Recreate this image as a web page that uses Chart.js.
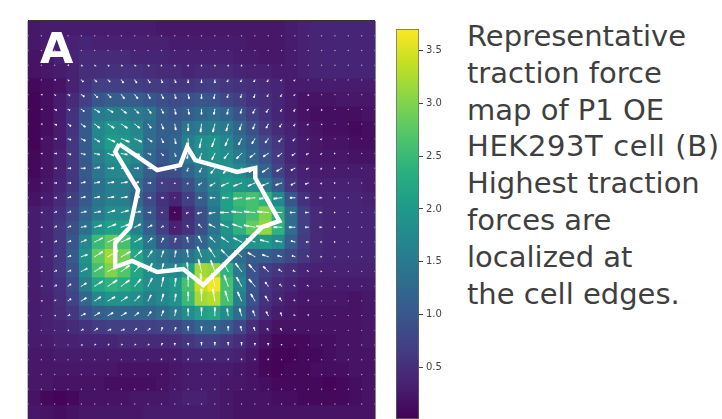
<!DOCTYPE html>
<html lang="en">
<head>
<meta charset="UTF-8">
<title>Traction force map</title>
<script src="https://cdn.jsdelivr.net/npm/chart.js@4"></script>
<style>
    html, body { margin: 0; padding: 0; background: #fff; overflow: hidden; }
    #page { position: relative; width: 722px; height: 419px; overflow: hidden; font-family: "DejaVu Sans", sans-serif; }
    #mapBox { position: absolute; left: 28px; top: 21px; width: 347px; height: 398px; box-shadow: 0 -1px 0 #333, 1px 0 0 #888, -1px 0 0 #bbb; filter: blur(0.6px); }
    #barBox { position: absolute; left: 396px; top: 20px; filter: blur(0.35px); }
    #panel { position: absolute; left: 40px; top: 22px; font-size: 43px; font-weight: bold; color: #fff; line-height: 52px; }
    #note { position: absolute; left: 467px; top: 18px; font-size: 29px; line-height: 36.8px; color: #3f3f3f; white-space: nowrap; }
    #note span { letter-spacing: 0.6px; }
</style>
</head>
<body>
<div id="page">
    <div id="mapBox"><canvas id="map" width="347" height="398"></canvas></div>
    <div id="barBox"><canvas id="bar" width="60" height="420"></canvas></div>
    <div id="panel">A</div>
    <div id="note">Representative<br>traction force<br>map of P1 OE<br><span>HEK293T cell (B)</span><br>Highest traction<br>forces are<br>localized at<br>the cell edges.</div>
</div>
<script>
// heat map, one row per line from the top
const tractionMap = [
    [.25,.3,.3,.3,.3,.3,.3,.3,.3,.3,.25,.25,.25,.25,.25,.25,.25,.25,.25,.25,.3,.35,.4,.4,.4,.4,.4],
    [.25,.3,.35,.35,.4,.35,.35,.35,.35,.35,.35,.3,.3,.3,.3,.3,.3,.25,.25,.25,.3,.35,.4,.4,.4,.4,.4],
    [.2,.25,.35,.4,.45,.45,.45,.45,.4,.4,.4,.35,.35,.35,.35,.35,.3,.3,.25,.25,.3,.35,.4,.4,.4,.4,.4],
    [.2,.25,.3,.35,.5,.5,.55,.55,.55,.5,.45,.45,.4,.45,.45,.45,.4,.35,.35,.3,.3,.35,.4,.4,.4,.4,.4],
    [.1,.15,.2,.35,.55,.7,.7,.7,.7,.65,.65,.6,.6,.65,.7,.6,.55,.5,.45,.4,.3,.3,.3,.3,.3,.3,.3],
    [.05,.15,.3,.45,.7,1.0,1.1,1.1,1.1,1.0,.9,.85,.9,1.0,.95,.8,.7,.55,.5,.4,.3,.2,.2,.2,.25,.25,.25],
    [.05,.15,.3,.55,.95,1.5,1.6,1.6,1.5,1.4,1.1,1.0,1.1,1.25,1.3,1.2,.95,.7,.55,.4,.3,.2,.15,.15,.15,.15,.2],
    [.05,.15,.3,.55,1.05,1.7,1.9,1.85,1.7,1.3,1.1,1.1,1.4,1.5,1.6,1.5,1.2,.9,.65,.45,.35,.25,.2,.15,.15,.1,.15],
    [.05,.2,.3,.6,1.05,1.7,2.05,2.0,1.8,1.3,1.1,1.2,1.6,1.85,1.9,1.7,1.35,1.1,.85,.6,.4,.3,.25,.2,.2,.15,.15],
    [.1,.2,.35,.6,1.05,1.6,1.85,1.9,1.7,1.25,1.0,1.2,1.5,1.8,1.9,1.8,1.5,1.25,.95,.65,.4,.3,.25,.25,.25,.2,.2],
    [.1,.2,.35,.6,1.05,1.45,1.7,1.75,1.5,1.1,.85,.9,1.2,1.5,1.8,1.9,1.75,1.45,1.15,.75,.5,.35,.3,.3,.3,.3,.3],
    [.15,.25,.4,.6,1.0,1.35,1.6,1.6,1.3,1.0,.7,.65,.9,1.3,1.7,2.0,1.95,1.85,1.5,1.05,.6,.4,.35,.35,.35,.35,.3],
    [.2,.3,.45,.7,1.05,1.4,1.6,1.6,1.2,.85,.55,.4,.7,1.1,1.6,2.1,2.5,2.6,2.4,1.75,1.0,.55,.4,.4,.4,.4,.35],
    [.3,.4,.55,.8,1.2,1.5,1.8,1.8,1.5,1.0,.6,.1,.5,.9,1.4,2.1,2.4,2.6,3.0,2.3,1.3,.7,.45,.4,.4,.4,.4],
    [.3,.4,.6,.9,1.35,1.9,2.1,2.1,1.6,1.1,.7,.35,.55,.9,1.4,1.9,2.4,2.8,3.1,2.4,1.3,.7,.45,.4,.4,.4,.4],
    [.3,.4,.6,1.0,1.7,2.5,2.8,2.6,2.0,1.4,1.0,.8,.95,1.2,1.6,1.8,1.9,1.9,2.0,1.8,1.1,.65,.45,.4,.4,.4,.4],
    [.3,.4,.6,1.05,1.9,2.8,3.2,2.9,2.2,1.7,1.5,1.3,1.4,1.7,1.8,1.6,1.3,1.1,1.1,1.0,.8,.6,.45,.4,.4,.4,.4],
    [.3,.4,.6,.95,1.8,2.6,3.0,2.7,2.2,1.8,1.7,1.7,2.1,3.2,3.1,2.4,1.5,.95,.7,.6,.5,.4,.35,.35,.35,.35,.35],
    [.3,.4,.55,.85,1.6,2.2,2.4,2.3,2.1,1.8,1.8,2.0,2.6,3.4,3.65,2.6,1.7,1.0,.6,.45,.4,.3,.3,.3,.3,.3,.3],
    [.3,.35,.5,.75,1.25,1.7,1.9,1.9,1.8,1.6,1.7,1.9,2.5,3.2,3.3,2.6,1.6,.95,.55,.4,.3,.25,.25,.25,.25,.2,.25],
    [.3,.35,.45,.6,.9,1.1,1.2,1.2,1.2,1.2,1.3,1.5,1.8,2.1,2.2,1.8,1.3,.8,.45,.3,.25,.2,.2,.2,.2,.2,.25],
    [.3,.35,.4,.45,.55,.65,.7,.7,.7,.7,.75,.8,1.0,1.2,1.2,1.05,.8,.5,.3,.2,.2,.2,.2,.2,.2,.2,.25],
    [.3,.3,.35,.35,.4,.4,.4,.45,.45,.45,.45,.5,.6,.7,.7,.6,.5,.35,.2,.1,.1,.1,.15,.15,.2,.2,.25],
    [.25,.25,.3,.3,.3,.3,.3,.3,.3,.3,.3,.3,.4,.4,.4,.4,.35,.25,.1,.05,.05,.1,.1,.15,.2,.2,.2],
    [.25,.25,.25,.25,.25,.25,.25,.2,.2,.2,.2,.25,.3,.3,.3,.3,.25,.2,.1,.05,.1,.1,.15,.15,.15,.2,.2],
    [.25,.25,.2,.2,.2,.2,.15,.15,.15,.15,.2,.25,.3,.3,.3,.25,.25,.2,.15,.1,.1,.1,.1,.05,.1,.15,.2],
    [.2,.1,.05,.1,.2,.2,.2,.2,.25,.25,.25,.3,.35,.35,.3,.25,.2,.2,.2,.15,.15,.1,.1,.1,.1,.15,.2],
    [.25,.2,.15,.2,.25,.25,.25,.25,.25,.3,.3,.3,.3,.3,.3,.25,.2,.2,.2,.2,.2,.2,.2,.2,.2,.2,.2]
];

// quiver components, rows 1..26 of the vector grid, columns 0..26
const arrowU = [
    [0,0,0,0,0,0,0,0,0,0,0,0,0,0,0,0,0,0,0,0,0,0,0,0,0,0,0],
    [0,0,0,0,0,0,0,0,0,0,0,0,0,0,0,0,0,0,0,0,0,0,0,0,0,0,0],
    [0,0,0,1,1,1,1,1,1,1,0,0,0,0,0,0,0,0,0,0,0,0,0,0,0,0,0],
    [0,0,1,1,2,2,2,2,2,2,1,1,0,0,0,-1,-1,-1,-1,-1,-1,0,0,0,0,0,0],
    [0,1,1,2,3,3,3,3,3,2,2,1,1,0,-1,-1,-1,-1,-1,-1,-1,0,0,0,0,0,0],
    [0,1,2,2,3,5,5,5,4,3,2,1,1,0,-1,-1,-1,-2,-2,-1,-1,-1,0,0,0,0,0],
    [0,1,2,3,4,5,6,6,5,3,2,1,0,-1,-2,-2,-2,-2,-2,-2,-1,-1,0,0,0,0,0],
    [0,1,2,3,4,5,7,8,7,4,2,1,0,-2,-3,-3,-3,-3,-3,-3,-2,-1,-1,0,0,0,0],
    [0,1,2,3,4,5,6,6,5,3,2,1,-1,-2,-3,-4,-5,-5,-5,-4,-3,-2,-1,-1,0,0,0],
    [0,1,2,3,4,5,6,5,4,3,2,1,-1,-2,-4,-5,-6,-6,-6,-5,-4,-2,-1,-1,0,0,0],
    [0,1,2,3,4,5,6,6,4,3,1,0,-1,-3,-5,-7,-8,-7,-7,-6,-4,-3,-1,-1,0,0,0],
    [0,1,2,3,4,5,6,6,5,3,2,0,-1,-3,-5,-6,-8,-9,-9,-8,-5,-3,-2,-1,0,0,0],
    [0,1,2,3,5,6,7,7,6,3,1,0,-2,-4,-6,-8,-10,-11,-11,-9,-5,-3,-2,-1,0,0,0],
    [0,1,2,3,5,7,8,8,6,4,2,0,-1,-3,-6,-8,-9,-11,-12,-8,-6,-3,-2,-1,0,0,0],
    [0,1,2,3,5,8,9,9,7,4,2,1,-1,-3,-5,-7,-8,-9,-8,-6,-4,-2,-1,-1,0,0,0],
    [0,1,2,3,6,8,10,9,7,4,2,1,-1,-4,-6,-7,-7,-7,-6,-4,-3,-1,-1,0,0,0,0],
    [0,1,2,3,6,8,10,8,6,4,2,1,-1,-3,-4,-5,-6,-6,-5,-3,-2,-1,-1,0,0,0,0],
    [0,1,2,3,5,8,9,8,6,4,2,1,0,-1,-3,-4,-5,-6,-3,-2,-1,-1,0,0,0,0,0],
    [0,1,1,3,5,6,7,6,5,3,2,1,0,0,-2,-3,-4,-4,-3,-2,-1,0,0,0,0,0,0],
    [0,0,1,2,4,5,5,5,4,3,2,1,0,0,0,-1,-2,-2,-2,-1,-1,0,0,0,0,0,0],
    [0,0,0,1,2,3,3,3,2,2,1,1,0,0,0,0,-1,-1,-1,-1,0,0,0,0,0,0,0],
    [0,0,0,0,1,1,1,1,1,1,1,0,0,0,0,0,0,0,0,0,0,0,0,0,0,0,0],
    [0,0,0,0,0,0,0,0,0,0,0,0,0,0,0,0,0,0,0,0,0,0,0,0,0,0,0],
    [0,0,0,0,0,0,0,0,0,0,0,0,0,0,0,0,0,0,0,0,0,0,0,0,0,0,0],
    [0,0,0,0,0,0,0,0,0,0,0,0,0,0,0,0,0,0,0,0,0,0,0,0,0,0,0],
    [0,0,0,0,0,0,0,0,0,0,0,0,0,0,0,0,0,0,0,0,0,0,0,0,0,0,0]
];
const arrowV = [
    [0,0,0,0,0,0,0,0,0,0,0,0,0,0,0,0,0,0,0,0,0,0,0,0,0,0,0],
    [0,0,0,0,0,0,0,0,0,0,0,0,0,0,0,0,0,0,0,0,0,0,0,0,0,0,0],
    [0,0,0,0,1,1,1,1,1,1,1,1,1,1,1,1,1,0,0,0,0,0,0,0,0,0,0],
    [0,0,0,1,2,2,2,3,3,3,3,3,3,3,3,2,2,2,2,1,1,0,0,0,0,0,0],
    [0,0,1,1,2,3,3,4,4,4,4,4,4,4,4,3,3,3,2,2,1,1,0,0,0,0,0],
    [0,0,1,1,2,3,3,4,4,4,4,5,5,5,5,5,4,4,3,2,2,1,1,0,0,0,0],
    [0,0,1,2,3,4,4,4,4,4,5,6,7,8,8,7,6,5,4,3,2,1,1,0,0,0,0],
    [0,0,0,1,2,3,3,3,3,3,4,5,7,9,8,7,6,5,4,3,2,1,1,0,0,0,0],
    [0,0,0,1,1,1,2,1,1,1,2,3,5,6,6,5,5,4,3,3,2,1,1,0,0,0,0],
    [0,0,0,0,0,-1,0,0,0,0,1,2,3,4,5,5,5,4,4,3,2,1,1,0,0,0,0],
    [0,0,0,0,-1,-1,-1,-1,-1,0,0,1,1,2,3,3,3,3,3,2,2,1,1,0,0,0,0],
    [0,0,0,-1,-1,-1,-1,-1,-1,0,0,0,0,0,0,0,1,1,1,1,0,0,0,0,0,0,0],
    [0,0,-1,-1,-1,-1,-2,-2,-1,0,0,0,1,1,1,0,-1,-1,-1,0,0,0,0,0,0,0,0],
    [0,0,-1,-1,-1,-2,-3,-3,-3,-2,-1,0,-2,-3,-3,-3,-3,-2,-1,0,0,0,0,0,0,0,0],
    [0,0,-1,-1,-2,-4,-4,-4,-4,-4,-4,-4,-5,-6,-5,-5,-4,-3,-2,-1,-1,0,0,0,0,0,0],
    [0,0,-1,-1,-2,-5,-6,-5,-6,-6,-6,-6,-7,-10,-9,-7,-6,-4,-2,-1,-1,-1,0,0,0,0,0],
    [0,0,-1,-1,-3,-5,-6,-6,-7,-8,-8,-7,-9,-12,-11,-9,-8,-7,-5,-2,-1,-1,0,0,0,0,0],
    [0,0,-1,-2,-3,-5,-6,-6,-7,-8,-9,-8,-11,-13,-13,-11,-9,-7,-4,-2,-1,-1,0,0,0,0,0],
    [0,0,-1,-2,-3,-4,-4,-4,-5,-6,-7,-7,-9,-12,-12,-10,-9,-7,-5,-3,-1,-1,0,0,0,0,0],
    [0,0,0,-1,-2,-3,-3,-3,-3,-4,-5,-6,-7,-8,-8,-7,-7,-5,-4,-3,-1,-1,0,0,0,0,0],
    [0,0,0,0,-1,-2,-1,-1,-2,-2,-3,-3,-4,-4,-4,-4,-4,-3,-2,-2,-1,0,0,0,0,0,0],
    [0,0,0,0,0,-1,-1,-1,-1,-1,-2,-2,-2,-3,-3,-3,-3,-2,-2,-1,0,0,0,0,0,0,0],
    [0,0,0,0,0,0,0,0,0,0,-1,-1,-1,-1,-1,-1,-1,-1,-1,0,0,0,0,0,0,0,0],
    [0,0,0,0,0,0,0,0,0,0,0,0,0,0,0,0,0,0,0,0,0,0,0,0,0,0,0],
    [0,0,0,0,0,0,0,0,0,0,0,0,0,0,0,0,0,0,0,0,0,0,0,0,0,0,0],
    [0,0,0,0,0,0,0,0,0,0,0,0,0,0,0,0,0,0,0,0,0,0,0,0,0,0,0]
];

// cell outline in vector grid units
const outlineX = [6.83,9.68,11.40,11.93,12.53,15.68,17.03,17.03,18.83,17.55,13.13,11.63,9.68,7.80,6.53,6.53,7.65,8.25,6.53,6.83];
const outlineY = [8.35,10.12,9.78,8.55,9.44,10.25,9.98,10.66,13.58,13.98,17.92,16.84,17.04,16.29,16.70,15.07,13.98,11.47,8.89,8.35];

const colorbarTicks = [0.5, 1.0, 1.5, 2.0, 2.5, 3.0, 3.5];
const valueMin = 0.016;
const valueMax = 3.70;
const viridis = ['#440154','#482173','#433e85','#38588c','#2d708e','#25858e','#1e9b8a','#2ab07f','#51c56a','#85d54a','#c2df23','#fde725'];

// the heat map has 27 columns, the vector grid spans 26 intervals over the same width
const nCols = tractionMap[0].length;
const nRows = tractionMap.length;
const gridW = 26, gridH = 27.02;
const gridToCol = nCols / gridW;
const quiverX = 1 / 13.33, quiverY = 1 / 14.73;

function hexToRgb(h) {
    return [1, 3, 5].map(k => parseInt(h.substr(k, 2), 16));
}

function colorFor(v) {
    let t = (v - valueMin) / (valueMax - valueMin);
    t = Math.min(1, Math.max(0, t)) * (viridis.length - 1);
    const k = Math.min(viridis.length - 2, Math.floor(t));
    const a = hexToRgb(viridis[k]), b = hexToRgb(viridis[k + 1]);
    const c = a.map((x, n) => Math.round(x + (b[n] - x) * (t - k)));
    return `rgb(${c[0]},${c[1]},${c[2]})`;
}

// one stacked bar series per heat map row
const cellSets = tractionMap.map(row => ({
    type: 'bar',
    data: row.map((_, c) => ({ x: c + 0.5, y: 1 })),
    backgroundColor: row.map(colorFor),
    yAxisID: 'y',
    barPercentage: 1,
    categoryPercentage: 1,
    borderWidth: 0,
    inflateAmount: 0.5,
    order: 3
}));

const bodyPts = [], headPts = [], dotPts = [];
arrowU.forEach((row, j) => {
    row.forEach((u, i) => {
        const v = arrowV[j][i];
        const x = i, y = j + 1;
        const ex = x + u * quiverX, ey = y + v * quiverY;
        dotPts.push({ x: x * gridToCol, y: y });
        if (u === 0 && v === 0) return;
        bodyPts.push({ x: x * gridToCol, y: y }, { x: ex * gridToCol, y: ey }, { x: ex * gridToCol, y: null });
        const hx = x + u * quiverX * 0.55, hy = y + v * quiverY * 0.55;
        headPts.push({ x: hx * gridToCol, y: hy }, { x: ex * gridToCol, y: ey }, { x: ex * gridToCol, y: null });
    });
});

function vectorSet(data, extra) {
    return Object.assign({
        type: 'line',
        data: data,
        yAxisID: 'yv',
        pointRadius: 0,
        borderColor: '#fff',
        backgroundColor: '#fff',
        tension: 0,
        spanGaps: false,
        borderDash: [1000, 0], // keeps the line element off its x-merging fast path
        order: 2
    }, extra);
}

new Chart(document.getElementById('map'), {
    type: 'bar',
    data: {
        datasets: cellSets.concat([
            vectorSet(dotPts, { showLine: false, pointRadius: 0.7, borderWidth: 0, backgroundColor: 'rgba(255,255,255,0.6)' }),
            vectorSet(bodyPts, { borderWidth: 0.9, borderColor: 'rgba(255,255,255,0.9)' }),
            vectorSet(headPts, { borderWidth: 1.9, borderColor: 'rgba(255,255,255,0.95)' }),
            vectorSet(outlineX.map((x, k) => ({ x: x * gridToCol, y: outlineY[k] })), { borderWidth: 4.4, borderJoinStyle: 'miter', order: 1 })
        ])
    },
    options: {
        responsive: false,
        animation: false,
        events: [],
        layout: { padding: 0, autoPadding: false },
        plugins: { legend: { display: false }, tooltip: { enabled: false } },
        scales: {
            x: { type: 'linear', stacked: true, display: false, offset: false, min: 0, max: nCols },
            y: { type: 'linear', stacked: true, display: false, reverse: true, offset: false, min: 0, max: nRows },
            yv: { type: 'linear', display: false, reverse: true, offset: false, min: 0, max: gridH }
        }
    }
});

// colour bar, a single floating bar painted with the same colour stops
new Chart(document.getElementById('bar'), {
    type: 'bar',
    data: {
        labels: [''],
        datasets: [{
            data: [[valueMin, valueMax]],
            barPercentage: 1,
            categoryPercentage: 1,
            borderWidth: 1,
            borderSkipped: false,
            borderColor: '#666',
            backgroundColor(ctx) {
                const area = ctx.chart.chartArea;
                if (!area) return viridis[0];
                const g = ctx.chart.ctx.createLinearGradient(0, area.bottom, 0, area.top);
                viridis.forEach((c, k) => g.addColorStop(k / (viridis.length - 1), c));
                return g;
            }
        }]
    },
    options: {
        responsive: false,
        animation: false,
        events: [],
        layout: { padding: { top: 1, bottom: 21 }, autoPadding: false },
        plugins: { legend: { display: false }, tooltip: { enabled: false } },
        scales: {
            x: { display: false },
            y: {
                position: 'right',
                min: valueMin,
                max: valueMax,
                afterFit(s) { s.width = 37; },
                afterBuildTicks(s) { s.ticks = colorbarTicks.map(v => ({ value: v })); },
                grid: { drawOnChartArea: false, drawTicks: true, tickLength: 4, color: '#444' },
                border: { display: false },
                ticks: {
                    color: '#444',
                    padding: 3,
                    font: { family: '"DejaVu Sans"', size: 10 },
                    callback: v => v.toFixed(1)
                }
            }
        }
    }
});
</script>
</body>
</html>
